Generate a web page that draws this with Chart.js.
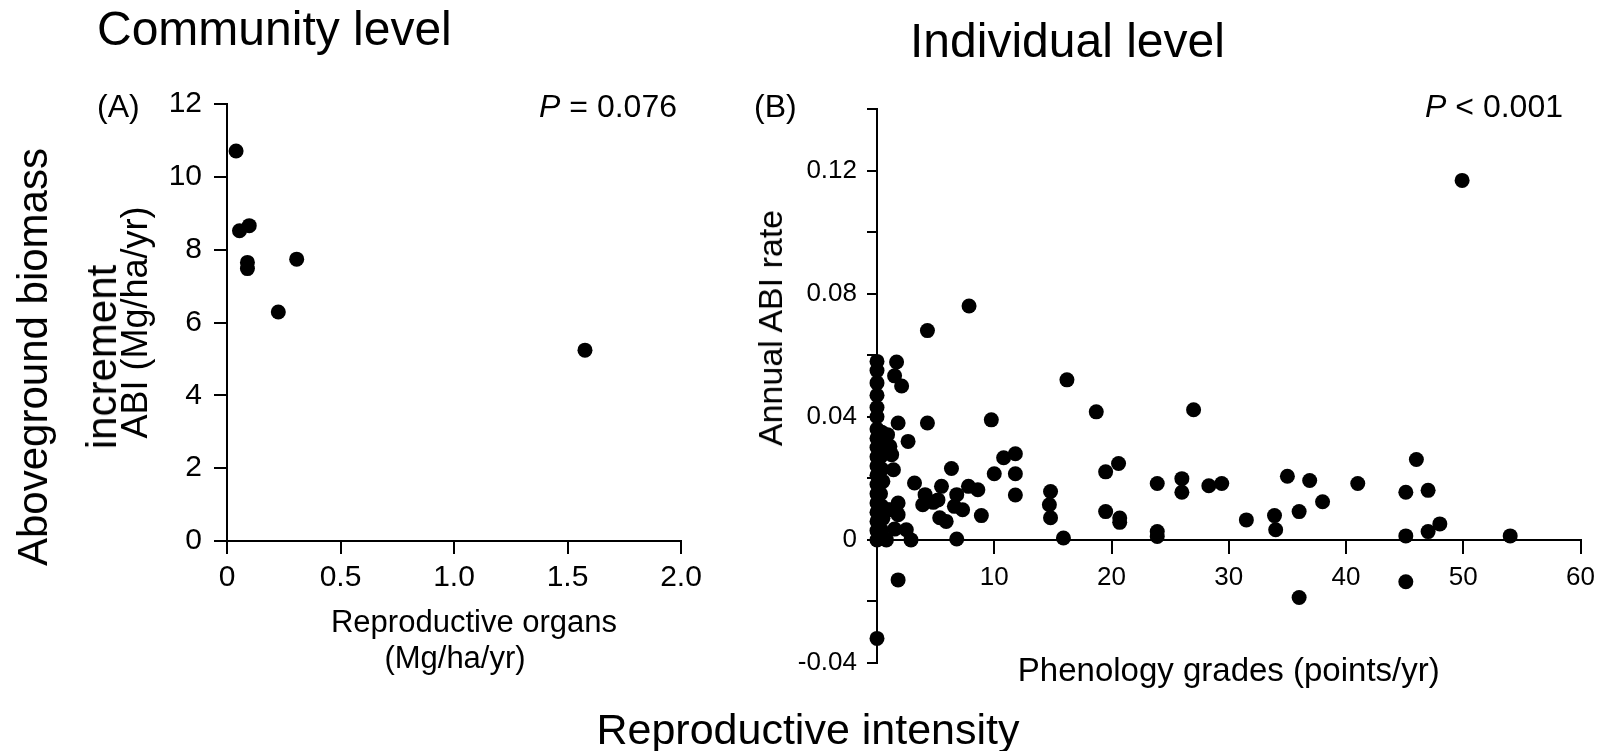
<!DOCTYPE html>
<html>
<head>
<meta charset="utf-8">
<script src="https://cdn.jsdelivr.net/npm/chart.js@4.4.0/dist/chart.umd.min.js"></script>
<style>
  html, body { margin: 0; padding: 0; background: #fff; }
  body { width: 1604px; height: 751px; position: relative; overflow: hidden;
         font-family: "Liberation Sans", Arial, sans-serif; color: #000; }
  .lbl { position: absolute; white-space: nowrap; line-height: 1; }
  .ctr { position: absolute; white-space: nowrap; line-height: 1;
         transform: translate(-50%, -50%); }
  .rot { position: absolute; white-space: nowrap; line-height: 1;
         transform: translate(-50%, -50%) rotate(-90deg); }
  #cA { position: absolute; left: 0; top: 0; }
  #cB { position: absolute; left: 720px; top: 0; }
</style>
</head>
<body>
<canvas id="cA" width="720" height="751"></canvas>
<canvas id="cB" width="884" height="751"></canvas>

<div class="lbl" style="left:97px; top:5px; font-size:48px;">Community level</div>
<div class="lbl" style="left:910px; top:17px; font-size:48px;">Individual level</div>
<div class="lbl" style="left:97px; top:90px; font-size:32px;">(A)</div>
<div class="lbl" style="right:927px; top:90px; font-size:32px;"><i>P</i> = 0.076</div>
<div class="lbl" style="left:754px; top:90px; font-size:32px;">(B)</div>
<div class="lbl" style="right:41px; top:90px; font-size:32px;"><i>P</i> &lt; 0.001</div>
<div class="rot" style="left:33px; top:357px; font-size:42px;">Aboveground biomass</div>
<div class="rot" style="left:102px; top:357px; font-size:42px;">increment</div>
<div class="rot" style="left:770px; top:328px; font-size:34px;">Annual ABI rate</div>
<div class="ctr" style="left:474px; top:621px; font-size:31px;">Reproductive organs</div>
<div class="ctr" style="left:455px; top:657px; font-size:31px;">(Mg/ha/yr)</div>
<div class="lbl" style="left:0; width:1616px; text-align:center; top:708px; font-size:43px;">Reproductive intensity</div>

<script>
// community level: reproductive organs vs ABI
var commX = [0.040, 0.055, 0.098, 0.090, 0.090, 0.307, 0.226, 1.577];
var commY = [10.71, 8.52, 8.66, 7.65, 7.48, 7.74, 6.29, 5.24];

// individual level: phenology grades vs annual ABI rate
var indivX = [
  0, 0, 0, 0, 0, 0, 0, 0, 0, 0, 0, 0, 0, 0, 0, 0, 0, 0, 0, 0,
  0.4, 0.5, 0.3, 0.4, 0.5, 0.3, 0.4, 0.5, 0.4,
  0.9, 1.1, 1.25, 1.4, 0.9, 1.1, 0.8, 1.67, 1.5, 2.1, 1.8, 4.3, 2.65, 3.2,
  1.8, 1.8, 1.5, 2.5, 2.9, 1.8, 4.3, 7.85,
  4.1, 3.9, 4.8, 5.5, 5.2, 5.35, 5.9, 6.35, 6.8, 6.6, 7.3, 7.8, 8.6, 8.9, 6.8,
  9.75, 10.0, 10.8, 11.8, 11.8, 11.8, 14.8, 14.7, 14.8, 15.9, 16.2, 18.7,
  19.5, 20.6, 19.5, 20.7, 20.7, 23.9, 23.9, 23.9, 26.0, 26.0, 27.0, 28.3,
  29.4, 31.5, 33.9, 34.0, 35.0, 36.0, 36.9, 38.0, 41.0, 45.1, 45.1, 46.0,
  47.0, 47.0, 48.0, 54.0, 45.1, 36.0, 49.9
];
var indivY = [
  0.058, 0.055, 0.051, 0.047, 0.043, 0.040, 0.036, 0.033, 0.030, 0.027,
  0.024, 0.021, 0.018, 0.015, 0.012, 0.009, 0.006, 0.003, 0.000, -0.032,
  0.035, 0.031, 0.027, 0.023, 0.019, 0.015, 0.011, 0.007, 0.003,
  0.0342, 0.0304, 0.0277, 0.0228, 0.0098, 0.0098, 0.0, 0.0578, 0.0533, 0.050,
  0.038, 0.038, 0.032, 0.0185,
  0.012, 0.0082, 0.0035, 0.0033, 0.0, -0.013, 0.068, 0.076,
  0.0147, 0.0114, 0.0122, 0.0174, 0.013, 0.0072, 0.006, 0.0232, 0.0147, 0.0109,
  0.0098, 0.0174, 0.0163, 0.0079, 0.0003,
  0.039, 0.0215, 0.0267, 0.028, 0.0215, 0.0146, 0.0157, 0.0114, 0.0072, 0.0006,
  0.052, 0.0416,
  0.0221, 0.0248, 0.0092, 0.0071, 0.0057, 0.0183, 0.0027, 0.0011, 0.0199, 0.0155,
  0.0423, 0.0176,
  0.0183, 0.0065, 0.0079, 0.0033, 0.0207, 0.0092, 0.0193, 0.0124, 0.0183, 0.0155,
  0.0013, 0.0261,
  0.0161, 0.0027, 0.0052, 0.0013, -0.0136, -0.0187, 0.1168
];

var commTicksX = ['0', '0.5', '1.0', '1.5', '2.0'];

Chart.defaults.font.family = '"Liberation Sans", Arial, sans-serif';
Chart.defaults.color = '#000';

function toPoints(xs, ys) {
  var pts = [];
  for (var i = 0; i < xs.length; i++) {
    pts.push({x: xs[i], y: ys[i]});
  }
  return pts;
}

var dotStyle = {
  backgroundColor: '#000',
  borderWidth: 0,
  pointRadius: 7.5,
  pointHoverRadius: 7.5,
  clip: false
};

var axisGrid = {drawOnChartArea: false, drawTicks: true, color: '#000', lineWidth: 2};
var axisBorder = {display: true, color: '#000', width: 2};

// panel A
new Chart(document.getElementById('cA'), {
  type: 'scatter',
  data: {datasets: [Object.assign({data: toPoints(commX, commY)}, dotStyle)]},
  options: {
    responsive: false,
    animation: false,
    events: [],
    layout: {padding: {left: 0, right: 39, top: 104, bottom: 0}},
    plugins: {legend: {display: false}, tooltip: {enabled: false}},
    scales: {
      x: {
        type: 'linear', min: 0, max: 2,
        grid: Object.assign({tickLength: 13}, axisGrid),
        border: axisBorder,
        ticks: {
          stepSize: 0.5, padding: 6, font: {size: 30},
          callback: function(v, i) { return commTicksX[i]; }
        },
        afterFit: function(s) { s.height = 210; }
      },
      y: {
        min: 0, max: 12,
        grid: Object.assign({tickLength: 13}, axisGrid),
        border: axisBorder,
        ticks: {stepSize: 2, padding: 12, font: {size: 30}},
        title: {
          display: true, text: 'ABI (Mg/ha/yr)',
          font: {size: 36}, padding: {top: 115, bottom: 0}
        },
        afterFit: function(s) { s.width = 227; }
      }
    }
  }
});

// panel B
new Chart(document.getElementById('cB'), {
  type: 'scatter',
  data: {datasets: [Object.assign({data: toPoints(indivX, indivY)}, dotStyle)]},
  options: {
    responsive: false,
    animation: false,
    events: [],
    layout: {padding: {left: 0, right: 21, top: 109, bottom: 88}},
    plugins: {legend: {display: false}, tooltip: {enabled: false}},
    scales: {
      x: {
        type: 'linear', min: 0, max: 60,
        position: {y: 0},
        grid: Object.assign({tickLength: 13}, axisGrid),
        border: axisBorder,
        ticks: {
          stepSize: 10, padding: 9, font: {size: 26},
          callback: function(v) { return v === 0 ? '' : String(v); }
        },
        title: {
          display: true, text: 'Phenology grades (points/yr)',
          font: {size: 33}, padding: {top: 0, bottom: 0}
        },
        afterFit: function(s) { s.height = 152; }
      },
      y: {
        min: -0.04, max: 0.14,
        grid: Object.assign({tickLength: 10}, axisGrid),
        border: axisBorder,
        ticks: {
          stepSize: 0.02, padding: 10, font: {size: 26},
          callback: function(v) {
            var k = Math.round(v * 100);
            if (k % 4 !== 0) return '';
            return k === 0 ? '0' : v.toFixed(2);
          }
        },
        afterFit: function(s) { s.width = 157; }
      }
    }
  }
});
</script>
</body>
</html>
